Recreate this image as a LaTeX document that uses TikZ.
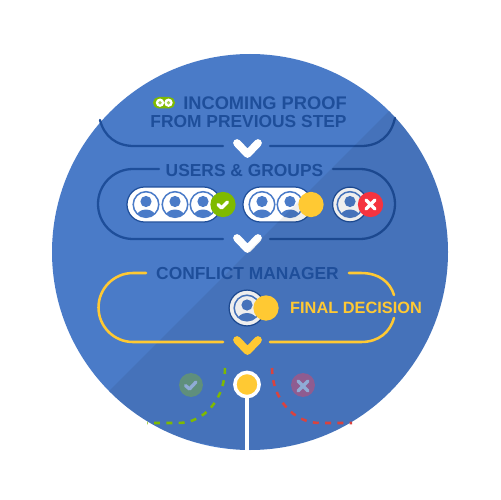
\documentclass[tikz,border=0pt]{standalone}
\usepackage{fontspec}
\setmainfont{Liberation Sans}
\usetikzlibrary{arrows.meta,positioning,calc}
\definecolor{discblue}{HTML}{4A7BC8}
\definecolor{ringblue}{HTML}{4A7BC8}
\definecolor{inkblue}{HTML}{1E4E9A}
\definecolor{okgreen}{HTML}{7FBA00}
\definecolor{waityellow}{HTML}{FFC933}
\definecolor{nored}{HTML}{F5333F}
\definecolor{fadegreen}{HTML}{5F8F7C}
\definecolor{fadered}{HTML}{8F5C90}
\definecolor{fademark}{HTML}{8FABD6}
\definecolor{dashred}{HTML}{D9433F}
\tikzset{
  bracket/.style={inkblue, line width=1.3pt, line cap=round},
  goldline/.style={waityellow, line width=1.45pt, line cap=round},
  chevron/.style={white, line width=4.4pt, line cap=round, line join=round},
  title/.style={text=inkblue, font=\bfseries\fontsize{9.9}{11}\selectfont, inner sep=0pt},
  badge/.style={circle, minimum size=14.4pt, inner sep=0pt},
  pill/.style={draw=inkblue, fill=white, line width=0.7pt, rounded corners=9.9pt},
  tick/.style={white, line width=1.9pt, line cap=round, line join=round},
  outcome/.style={line width=1.45pt, dash pattern=on 3.4pt off 3.6pt}
}
\begin{document}
\begin{tikzpicture}[x=0.02cm, y=-0.02cm]
  \useasboundingbox (0, 0) rectangle (500, 500);
  % Disc and the diagonal shade
  \fill[discblue] (250, 252) circle (198);

  % Top bracket
  \draw[bracket] (100, 120) .. controls (104, 136) and (116, 146) .. (134, 146) -- (223, 146);
  \draw[bracket] (270, 146) -- (361, 146) .. controls (379, 146) and (391, 136) .. (395, 118);
  \draw[chevron] (237, 143) -- (247.5, 154) -- (258, 143);

  % Users group outline
  \draw[bracket] (159, 169) -- (133, 169) arc[start angle=-90, end angle=-270, radius=35] -- (223, 239);
  \draw[bracket] (333, 169) -- (360, 169) arc[start angle=-90, end angle=90, radius=35] -- (270, 239);

  % Pills
  \draw[pill] (127, 187) rectangle (221, 222);
  \draw[pill] (243, 187) rectangle (312, 222);
  \node[circle, draw=inkblue, fill=white, line width=0.7pt, minimum size=19.8pt, inner sep=0pt] (lonering) at (350, 204.5) {};
  \node[circle, draw=inkblue, fill=white, line width=0.7pt, minimum size=20.4pt, inner sep=0pt] (finalring) at (247, 308) {};

  % Avatars
  \foreach \cx/\cy in {146/204.5, 175/204.5, 203/204.5, 262/204.5, 290/204.5, 350/204.5, 247/308} {
    \begin{scope}
      \clip (\cx, \cy) circle (12.5);
      \fill[ringblue] (\cx, \cy+13) ellipse (10 and 8);
      \fill[ringblue] (\cx, \cy-3) circle (5.6);
    \end{scope}
    \draw[ringblue, line width=0.85pt] (\cx, \cy) circle (12.8);
  }

  % Chevron between the groups
  \draw[chevron] (237, 238) -- (247.5, 249) -- (258, 238);

  % Shade over the lower right half
  \begin{scope}
    \clip (250, 252) circle (198);
    \fill[black, opacity=0.065] (420, 80) -- (80, 420) -- (500, 500) -- (500, 80) -- cycle;
  \end{scope}

  % Titles
  \node[title, font=\bfseries\fontsize{10.4}{11}\selectfont] (incoming) at (265, 103.5) {INCOMING PROOF};
  \node[title] (previous) at (248.5, 121.5) {FROM PREVIOUS STEP};
  \node[title] (users) at (244.5, 171) {USERS \& GROUPS};
  \node[title] (conflict) at (247.5, 273.5) {CONFLICT MANAGER};

  % Link icon
  \fill[okgreen, rounded corners=3.2pt] (153, 97) rectangle (175, 108.5);
  \foreach \cx in {160, 168.5} {
    \fill[white] (\cx, 102.7) circle (4.2);
    \fill[okgreen!70!white] (\cx, 102.7) circle (1.9);
  }

  % Badges
  \node[badge, fill=okgreen] (okbadge) at (223, 204.5) {};
  \draw[tick] (218, 204.5) -- (221.5, 208) -- (227.5, 202);
  \node[badge, fill=waityellow] (waitbadge) at (311, 204.5) {};
  \node[badge, fill=nored] (nobadge) at (370.5, 204.5) {};
  \draw[tick] (366, 200) -- (375, 209) (375, 200) -- (366, 209);
  \node[badge, fill=waityellow] (finalbadge) at (266, 308) {};

  % Conflict group outline
  \draw[goldline] (146, 273) -- (133, 273) arc[start angle=-90, end angle=-270, radius=34.5] -- (223, 342);
  \draw[goldline] (349, 273) -- (361, 273) .. controls (379, 273) and (390, 282) .. (394, 295);
  \draw[goldline] (394, 318) .. controls (390, 332) and (379, 342) .. (361, 342) -- (270, 342);
  \draw[chevron, waityellow] (237, 340) -- (247.5, 351) -- (258, 340);
  \node[title, text=waityellow, font=\bfseries\fontsize{9.3}{11}\selectfont] (decision) at (356, 308) {FINAL DECISION};

  % Outcomes
  \node[badge, minimum size=13.6pt, fill=fadegreen] (okfade) at (191, 385) {};
  \draw[tick, fademark] (185.5, 385.5) -- (189.5, 389) -- (196, 382);
  \node[badge, minimum size=13.6pt, fill=fadered] (nofade) at (303, 385) {};
  \draw[tick, fademark] (298, 381) -- (308, 391) (308, 381) -- (298, 391);
  \draw[okgreen, outcome] (225, 368) .. controls (225, 398) and (205, 423) .. (178, 423) -- (147, 423);
  \draw[dashred, outcome] (272, 368) .. controls (272, 398) and (293, 423) .. (320, 423) -- (352, 423);
  \draw[white, line width=2.1pt] (247, 395) -- (247, 450);
  \node[circle, draw=white, fill=waityellow, line width=2pt, minimum size=13.8pt, inner sep=0pt] (result) at (247, 384.5) {};
\end{tikzpicture}
\end{document}
